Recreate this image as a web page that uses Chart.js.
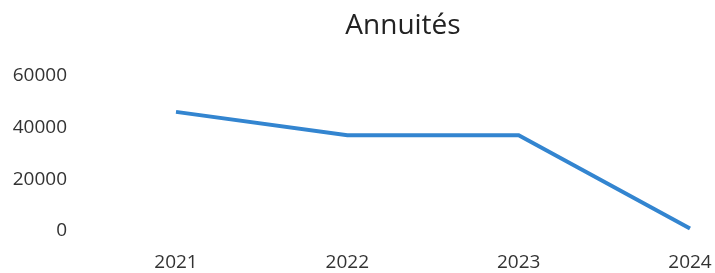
<!DOCTYPE html>
<html lang="fr">
<head>
  <meta charset="UTF-8" />
  <title>Annuités</title>
  <script src="https://cdn.jsdelivr.net/npm/chart.js"></script>
  <style>
    html, body { margin: 0; padding: 0; background: #fff; }
    #wrap { width: 715px; height: 273px; }
  </style>
</head>
<body>
  <div id="wrap"><canvas id="chart" width="715" height="273"></canvas></div>

  <script>
    const years = ['2021', '2022', '2023', '2024'];
    const annuites = [46000, 37000, 37000, 1000];
    const yTicks = [0, 20000, 40000, 60000];

    const font = 'Open Sans';

    // title is not centred on the canvas in the original, it sits over the plot
    const shiftTitle = {
      id: 'shiftTitle',
      afterLayout(chart) {
        if (!chart.titleBlock) return;
        chart.titleBlock.left = chart.chartArea.left - 60;
        chart.titleBlock.right = chart.chartArea.right;
      }
    };

    new Chart(document.getElementById('chart').getContext('2d'), {
      type: 'line',
      data: {
        labels: years,
        datasets: [{
          label: 'Annuités',
          data: annuites,
          borderColor: '#3385d0',
          borderWidth: 4,
          pointRadius: 0,
          tension: 0,
          fill: false
        }]
      },
      options: {
        responsive: false,
        animation: false,
        layout: { padding: { left: 0, right: 25, top: 0, bottom: 0 } },
        plugins: {
          legend: { display: false },
          tooltip: { enabled: false },
          title: {
            display: true,
            text: 'Annuités',
            color: '#222',
            font: { family: font, size: 28, weight: 'normal' },
            padding: { top: 9, bottom: 33 }
          }
        },
        scales: {
          x: {
            offset: false,
            grid: { display: false, drawTicks: false },
            border: { display: false },
            ticks: {
              color: '#333',
              font: { family: font, size: 19 },
              padding: 20,
              maxRotation: 0
            },
            afterFit: (axis) => {
              axis.height = 42;
              axis.paddingLeft = 0;
              axis.paddingRight = 20;
            }
          },
          y: {
            min: yTicks[0],
            max: yTicks[yTicks.length - 1],
            grid: { display: false, drawTicks: false },
            border: { display: false },
            afterBuildTicks: (axis) => { axis.ticks = yTicks.map(v => ({ value: v })); },
            ticks: {
              color: '#333',
              font: { family: font, size: 19 },
              padding: 109,
              callback: (v) => String(v)
            },
            afterFit: (axis) => {
              axis.width = 176;
              axis.paddingTop = 10;
              axis.paddingBottom = 10;
            }
          }
        }
      },
      plugins: [shiftTitle]
    });
  </script>
</body>
</html>
